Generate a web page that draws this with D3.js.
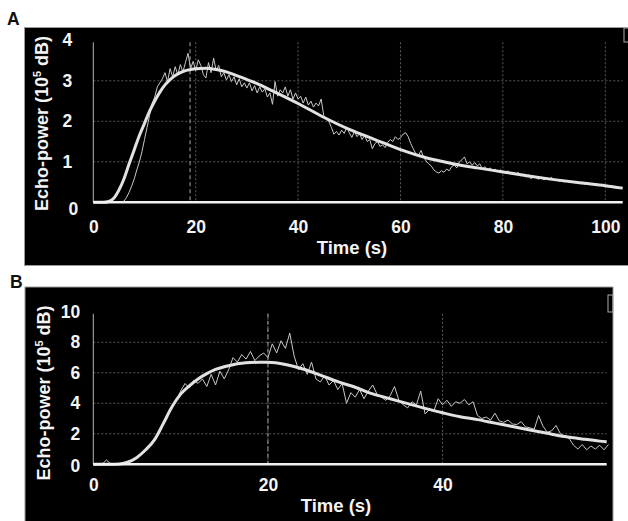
<!DOCTYPE html>
<html>
<head>
<meta charset="utf-8">
<script src="https://cdn.jsdelivr.net/npm/d3@7"></script>
<style>
  body { margin: 0; background: #fff; }
  svg text { font-family: "Liberation Sans", Arial, sans-serif; font-weight: bold; }
</style>
</head>
<body>
<div id="chart"></div>
<script>
// ---- panel A ----
const xTicksA = [0, 20, 40, 60, 80, 100];
const yTicksA = [0, 1, 2, 3, 4];
const peakTimeA = 18.9;
// fitted curve
const fitTimeA = [0, 2, 3, 4, 5, 6, 7, 8, 9, 10,
  11, 12, 13, 14, 15, 16, 17, 18, 19, 20,
  22, 24, 26, 28, 30, 32, 35,
  40, 45, 50, 55, 60, 65, 70, 75, 80, 85, 90, 95, 100, 103.4];
const fitValueA = [0, 0, 0.02, 0.1, 0.3, 0.58, 0.95, 1.3, 1.65, 1.95,
  2.25, 2.5, 2.72, 2.9, 3.03, 3.13, 3.2, 3.25, 3.28, 3.3,
  3.31, 3.28, 3.22, 3.13, 3.03, 2.93, 2.75,
  2.44, 2.1, 1.8, 1.55, 1.3, 1.1, 0.96, 0.85, 0.75, 0.65, 0.56, 0.48, 0.41, 0.35];
// raw echo-power, one sample every 0.5 s
const rawStepA = 0.5;
const rawValueA = [
  0, 0, 0, 0, 0, 0, 0, 0, 0, 0,                                  // 0 s
  0, 0, 0.03, 0.12, 0.25, 0.4, 0.58, 0.8, 1.0, 1.25,             // 5 s
  1.55, 1.85, 2.15, 2.45, 2.6, 2.85, 2.95, 3.05, 3.2, 2.98,      // 10 s
  3.3, 3.1, 3.35, 3.15, 3.4, 3.22, 3.45, 3.68, 3.3, 3.48,        // 15 s
  3.25, 3.52, 3.38, 3.15, 3.07, 3.45, 3.2, 3.56, 3.25, 3.38,     // 20 s
  3.1, 3.2, 3.02, 3.15, 2.98, 3.1, 2.9, 3.05, 2.85, 2.95,        // 25 s
  2.82, 2.95, 2.75, 2.88, 2.7, 2.85, 2.72, 2.8, 2.6, 2.7,        // 30 s
  2.42, 2.98, 2.62, 2.78, 2.7, 2.85, 2.62, 2.78, 2.55, 2.7,      // 35 s
  2.55, 2.62, 2.45, 2.6, 2.4, 2.5, 2.35, 2.45, 2.38, 2.55,       // 40 s
  2.15, 2.05, 2.0, 1.85, 1.68, 1.75, 1.66, 1.78, 1.7, 1.85,      // 45 s
  1.72, 1.6, 1.75, 1.62, 1.7, 1.55, 1.65, 1.5, 1.55, 1.32,       // 50 s
  1.45, 1.5, 1.38, 1.42, 1.35, 1.48, 1.55, 1.5, 1.62, 1.55,      // 55 s
  1.6, 1.68, 1.72, 1.62, 1.45, 1.32, 1.2, 1.15, 1.28, 1.12,      // 60 s
  1.02, 0.95, 0.9, 0.8, 0.75, 0.72, 0.78, 0.74, 0.82, 0.78,      // 65 s
  0.88, 0.92, 0.85, 1.0, 1.05, 1.12, 0.95, 1.0, 0.92, 0.98,      // 70 s
  0.9, 0.95, 0.82, 0.88, 0.8, 0.85, 0.78, 0.82, 0.75, 0.8,       // 75 s
  0.76, 0.72, 0.78, 0.7, 0.72, 0.68, 0.74, 0.65, 0.7, 0.62,      // 80 s
  0.68, 0.58, 0.65, 0.6, 0.57, 0.62, 0.55, 0.6, 0.56, 0.62,      // 85 s
  0.54, 0.56, 0.52, 0.55, 0.5, 0.54, 0.49, 0.52, 0.48, 0.5,      // 90 s
  0.46, 0.5, 0.45, 0.48, 0.44, 0.46, 0.42, 0.45, 0.42, 0.43,     // 95 s
  0.4, 0.42, 0.38, 0.4, 0.36, 0.37, 0.35                         // 100 s
];

// ---- panel B ----
const xTicksB = [0, 20, 40];
const yTicksB = [0, 2, 4, 6, 8, 10];
const peakTimeB = 20;
const fitTimeB = [0, 2, 3, 4, 5, 6, 7, 8, 9, 10,
  11, 12, 13, 14, 15, 16, 17, 18, 19, 20,
  22, 24, 26, 28, 30, 32, 34, 36, 38, 40,
  42, 44, 46, 48, 50, 52, 54, 56, 58, 58.8];
const fitValueB = [0, 0, 0.02, 0.15, 0.45, 0.95, 1.6, 2.65, 3.75, 4.6,
  5.15, 5.6, 5.95, 6.22, 6.4, 6.53, 6.62, 6.67, 6.69, 6.69,
  6.55, 6.25, 5.85, 5.42, 5.05, 4.62, 4.3, 3.98, 3.67, 3.38,
  3.12, 2.93, 2.7, 2.48, 2.25, 2.03, 1.82, 1.66, 1.52, 1.48];
const rawStepB = 0.5;
const rawValueB = [
  0, 0, 0, 0.28, 0.02, 0, 0, 0, 0.1, 0.22,                       // 0 s
  0.4, 0.65, 0.9, 1.25, 1.6, 2.1, 2.6, 3.2, 3.8, 4.2,            // 5 s
  4.8, 5.3, 5.0, 5.5, 5.3, 5.6, 5.1, 5.9, 5.2, 6.1,              // 10 s
  5.6, 6.2, 7.0, 6.7, 7.2, 6.9, 7.4, 6.8, 7.1, 7.3,              // 15 s
  7.0, 7.9, 7.3, 8.1, 7.6, 8.6, 7.1, 6.2, 6.6, 5.9,              // 20 s
  6.7, 5.6, 5.4, 5.8, 5.2, 5.5, 4.9, 5.3, 4.0, 4.7,              // 25 s
  4.4, 4.9, 4.3, 4.8, 5.2, 4.6, 4.4, 4.2, 4.5, 5.1,              // 30 s
  4.2, 3.9, 3.7, 4.1, 3.9, 4.8, 3.3, 3.6, 3.5, 4.3,              // 35 s
  3.9, 4.2, 3.8, 4.1, 4.0, 4.25, 3.9, 4.1, 3.2, 3.0,             // 40 s
  3.1, 2.9, 3.35, 2.85, 2.75, 2.9, 2.65, 2.6, 2.8, 2.45,         // 45 s
  2.4, 2.3, 3.2, 2.5, 2.1, 2.2, 2.55, 2.0, 1.85, 1.7,            // 50 s
  1.25, 1.0, 1.3, 0.95, 1.2, 1.0, 1.25, 0.95, 1.3                // 55 s
];

const width = 628, height = 521;

const svg = d3.select("#chart")
  .append("svg")
    .attr("width", width)
    .attr("height", height);

// layout of each panel (pixels)
const panels = [
  {
    letter: "A", letterX: 7, letterY: 25,
    box: [24.5, 27.5, 605, 238], badge: [624, 28, 6, 14],
    x0: 93.3, x1: 622.7, xMax: 103.4, yBase: 202.3, yTop: 40.3,
    yMax: 4, xTicks: xTicksA, yTicks: yTicksA, peak: peakTimeA,
    yPad: 21, xPad: 18, zeroShift: [6, 7],
    titleX: 352, titleY: 254, ylabX: 48, ylabY: 123.5,
    fitT: fitTimeA, fitV: fitValueA, raw: rawValueA, step: rawStepA
  },
  {
    letter: "B", letterX: 10, letterY: 288,
    box: [25, 287, 588, 240], badge: [608, 295, 5, 17],
    x0: 93.3, x1: 606.7, xMax: 58.8, yBase: 464.3, yTop: 311.8,
    yMax: 10, xTicks: xTicksB, yTicks: yTicksB, peak: peakTimeB,
    yPad: 13, xPad: 14, zeroShift: [0, 2],
    titleX: 336, titleY: 512, ylabX: 49.5, ylabY: 393,
    fitT: fitTimeB, fitV: fitValueB, raw: rawValueB, step: rawStepB
  }
];

panels.forEach(function(p) {
  const x = d3.scaleLinear().domain([0, p.xMax]).range([p.x0, p.x1]);
  const y = d3.scaleLinear().domain([0, p.yMax]).range([p.yBase, p.yTop]);
  const g = svg.append("g");

  svg.append("text")
    .attr("x", p.letterX).attr("y", p.letterY)
    .attr("font-size", 17.5).attr("fill", "#111")
    .text(p.letter);

  g.append("rect")
    .attr("x", p.box[0]).attr("y", p.box[1])
    .attr("width", p.box[2]).attr("height", p.box[3])
    .attr("fill", "#000").attr("stroke", "#9a9a9a").attr("stroke-width", 1);

  g.append("rect")
    .attr("x", p.badge[0]).attr("y", p.badge[1])
    .attr("width", p.badge[2]).attr("height", p.badge[3])
    .attr("fill", "none").attr("stroke", "#aaa").attr("stroke-width", 1);

  // dotted grid
  g.selectAll(".hgrid")
    .data(p.yTicks.filter(function(v) { return v > 0 && v < p.yMax; }))
    .enter().append("line")
      .attr("x1", p.x0).attr("x2", p.x1)
      .attr("y1", function(d) { return y(d); })
      .attr("y2", function(d) { return y(d); })
      .attr("stroke", "#5a5a5a").attr("stroke-width", 1)
      .attr("stroke-dasharray", "2,2");

  g.selectAll(".vgrid")
    .data(p.xTicks.filter(function(v) { return v > 0; }))
    .enter().append("line")
      .attr("x1", function(d) { return x(d); })
      .attr("x2", function(d) { return x(d); })
      .attr("y1", p.yTop + 2).attr("y2", p.yBase)
      .attr("stroke", "#5a5a5a").attr("stroke-width", 1)
      .attr("stroke-dasharray", "2,2");

  // time-to-peak marker
  g.append("line")
    .attr("x1", x(p.peak)).attr("x2", x(p.peak))
    .attr("y1", p.yTop + 2).attr("y2", p.yBase)
    .attr("stroke", "#8a8a8a").attr("stroke-width", 1.2)
    .attr("stroke-dasharray", "4,3");

  // y axis line
  g.append("line")
    .attr("x1", p.x0).attr("x2", p.x0)
    .attr("y1", p.yTop + 2).attr("y2", p.yBase)
    .attr("stroke", "#b5b5b5").attr("stroke-width", 1);

  const raw = p.raw.map(function(v, i) { return [i * p.step, v]; });
  const fit = p.fitT.map(function(t, i) { return [t, p.fitV[i]]; });

  g.append("path")
    .datum(raw)
    .attr("fill", "none")
    .attr("stroke", "#c8c8c8")
    .attr("stroke-width", 1)
    .attr("d", d3.line()
      .x(function(d) { return x(d[0]); })
      .y(function(d) { return y(d[1]); }));

  g.append("path")
    .datum(fit)
    .attr("fill", "none")
    .attr("stroke", "#e2e2e2")
    .attr("stroke-width", 3)
    .attr("d", d3.line()
      .curve(d3.curveMonotoneX)
      .x(function(d) { return x(d[0]); })
      .y(function(d) { return y(d[1]); }));

  // thick x axis line at zero
  g.append("line")
    .attr("x1", p.x0).attr("x2", p.x1)
    .attr("y1", p.yBase).attr("y2", p.yBase)
    .attr("stroke", "#f2f2f2").attr("stroke-width", 2.5);

  // tick labels
  const fmt = d3.format("d");
  const xAxis = g.append("g")
    .attr("transform", "translate(0," + p.yBase + ")")
    .call(d3.axisBottom(x).tickValues(p.xTicks).tickFormat(fmt).tickSize(0).tickPadding(p.xPad));
  const yAxis = g.append("g")
    .attr("transform", "translate(" + p.x0 + ",0)")
    .call(d3.axisLeft(y).tickValues(p.yTicks).tickFormat(fmt).tickSize(0).tickPadding(p.yPad));

  [xAxis, yAxis].forEach(function(a) {
    a.select(".domain").remove();
    a.selectAll("text")
      .attr("fill", "#f4f4f4")
      .attr("font-size", 17.5)
      .attr("font-family", "'Liberation Sans', Arial, sans-serif")
      .attr("font-weight", "bold");
  });
  yAxis.selectAll(".tick")
    .filter(function(d) { return d === 0; })
    .select("text")
      .attr("dx", p.zeroShift[0])
      .attr("dy", (0.32 * 17.5 + p.zeroShift[1]) + "px");

  g.append("text")
    .attr("x", p.titleX).attr("y", p.titleY)
    .attr("text-anchor", "middle")
    .attr("font-size", 18.5).attr("fill", "#f4f4f4")
    .text("Time (s)");

  const ylab = g.append("text")
    .attr("transform", "translate(" + p.ylabX + "," + p.ylabY + ") rotate(-90)")
    .attr("text-anchor", "middle")
    .attr("font-size", 18).attr("fill", "#f4f4f4");
  ylab.append("tspan").text("Echo-power (10");
  ylab.append("tspan").attr("font-size", 11).attr("dy", -7).text("5");
  ylab.append("tspan").attr("dy", 7).text(" dB)");
});
</script>
</body>
</html>
